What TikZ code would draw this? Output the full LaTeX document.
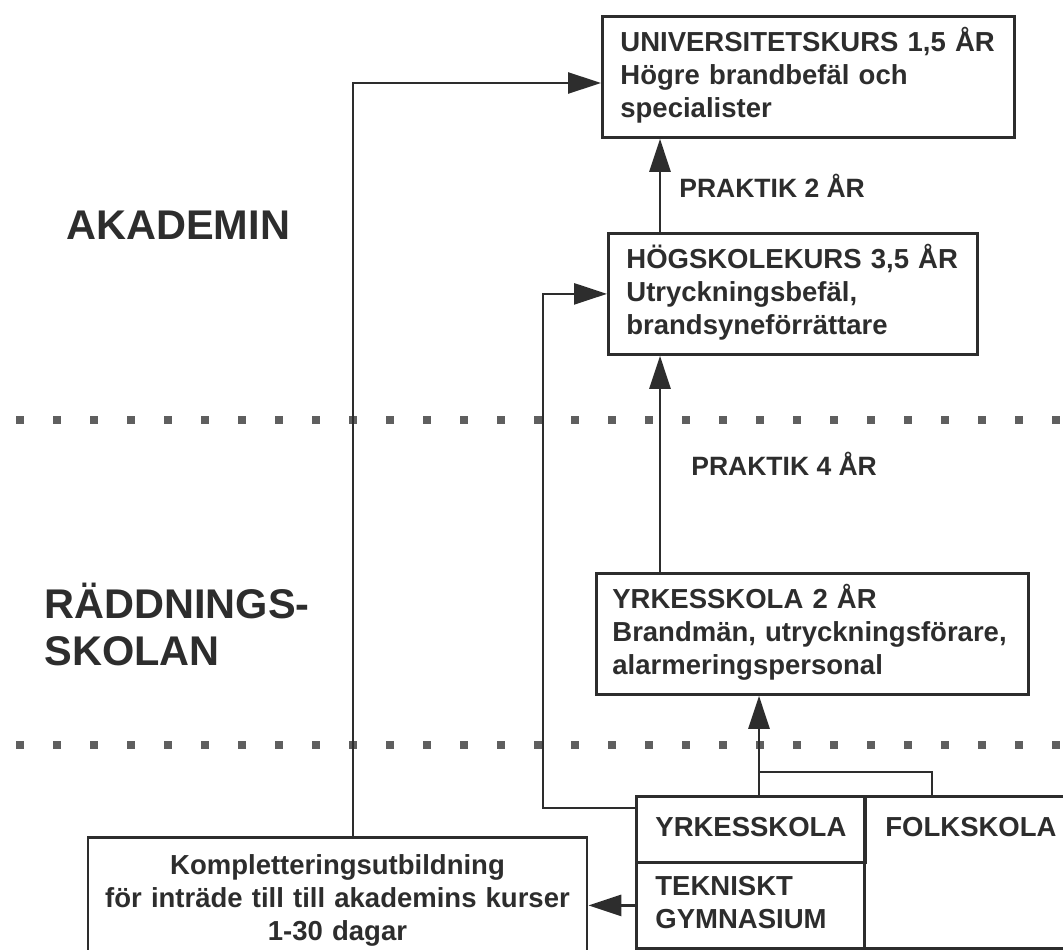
\documentclass[tikz,border=0pt]{standalone}
\usepackage{fontspec}
\setmainfont{Liberation Sans}
\usetikzlibrary{arrows.meta}
\definecolor{ink}{RGB}{45,45,45}
\definecolor{dotgray}{RGB}{95,95,95}

\begin{document}
\begin{tikzpicture}[x=1pt, y=-1pt, color=ink, line width=2.8pt,
    box/.style={draw, rectangle, anchor=north west, inner xsep=18pt, inner ysep=0pt, align=left,
      font=\fontsize{27.5}{33}\selectfont\bfseries, execute at begin node=\strut, execute at end node=\strut},
    cell/.style={draw, rectangle, anchor=north west, inner xsep=19pt, inner ysep=16.5pt,
      font=\fontsize{27.5}{33}\selectfont\bfseries, text height=23.1pt, text depth=9.9pt},
    zone/.style={anchor=north west, inner sep=0pt, align=left,
      font=\fontsize{41.5}{47}\selectfont\bfseries, execute at begin node=\strut},
    praktik/.style={anchor=west, inner sep=0pt, font=\fontsize{26.5}{30}\selectfont\bfseries},
    arr/.style={-{Triangle[length=33pt,width=21pt]}}]
        \useasboundingbox (0,0) rectangle (1063,950);
        \clip (0,0) rectangle (1063,950);

          \foreach \row in {420,745}
            \foreach \i in {0,...,28}
              \fill[dotgray] ({20+37*\i},\row) ++(-4,-4) rectangle ++(8,8);

          \node[zone] (akademin) at (65,205) {AKADEMIN};
          \node[zone] (raddning) at (43,582) {RÄDDNINGS-\\SKOLAN};

          \node[box, text width=376pt, minimum height=121pt] (univ) at (601,15) {UNIVERSITETSKURS 1,5 ÅR\\Högre brandbefäl och\\specialister};
          \node[box, text width=333pt, minimum height=121pt] (hogskola) at (607,232) {HÖGSKOLEKURS 3,5 ÅR\\Utryckningsbefäl,\\brandsyneförrättare};
          \node[box, inner xsep=16pt, text width=400pt, minimum height=121pt] (yrk2) at (595,572) {YRKESSKOLA 2 ÅR\\Brandmän, utryckningsförare,\\alarmeringspersonal};

          \node[cell] (yrk) at (635,795) {YRKESSKOLA};
          \node[box, inner xsep=19pt, text width=190pt, minimum height=86pt] (tekn) at (635,861) {TEKNISKT\\GYMNASIUM};
          \node[cell, inner xsep=21pt, text depth=95.9pt] (folk) at (863,795) {FOLKSKOLA};
          \node[box, anchor=north, align=center, inner xsep=5pt, text width=489pt, inner ysep=13.9pt] (kompl) at (337.5,836) {Kompletteringsutbildning\\för inträde till till akademins kurser\\1-30 dagar};

          \coordinate (spine) at (660,0);
          \coordinate (fork) at (759,772);
          \coordinate (forkr) at (932,772);
          \coordinate (lbend) at (543,808);
          \coordinate (kbend) at (353,83);

          \draw[arr] (spine |- hogskola.north) -- node[praktik, xshift=18pt] {PRAKTIK 2 ÅR} (spine |- univ.south);
          \draw[arr] (spine |- yrk2.north) -- node[praktik, xshift=30pt] {PRAKTIK 4 ÅR} (spine |- hogskola.south);
          \draw[arr] (fork |- yrk.north) -- (fork |- yrk2.south);
          \draw (fork) -- (forkr) -- (forkr |- folk.north);
          \draw[arr] (lbend -| yrk.west) -- (lbend) |- (hogskola.west);
          \draw[arr] (tekn.west) -- (tekn.west -| kompl.east);
          \draw[arr] (kompl.north -| kbend) -- (kbend) -- (kbend -| univ.west);

\end{tikzpicture}
\end{document}
